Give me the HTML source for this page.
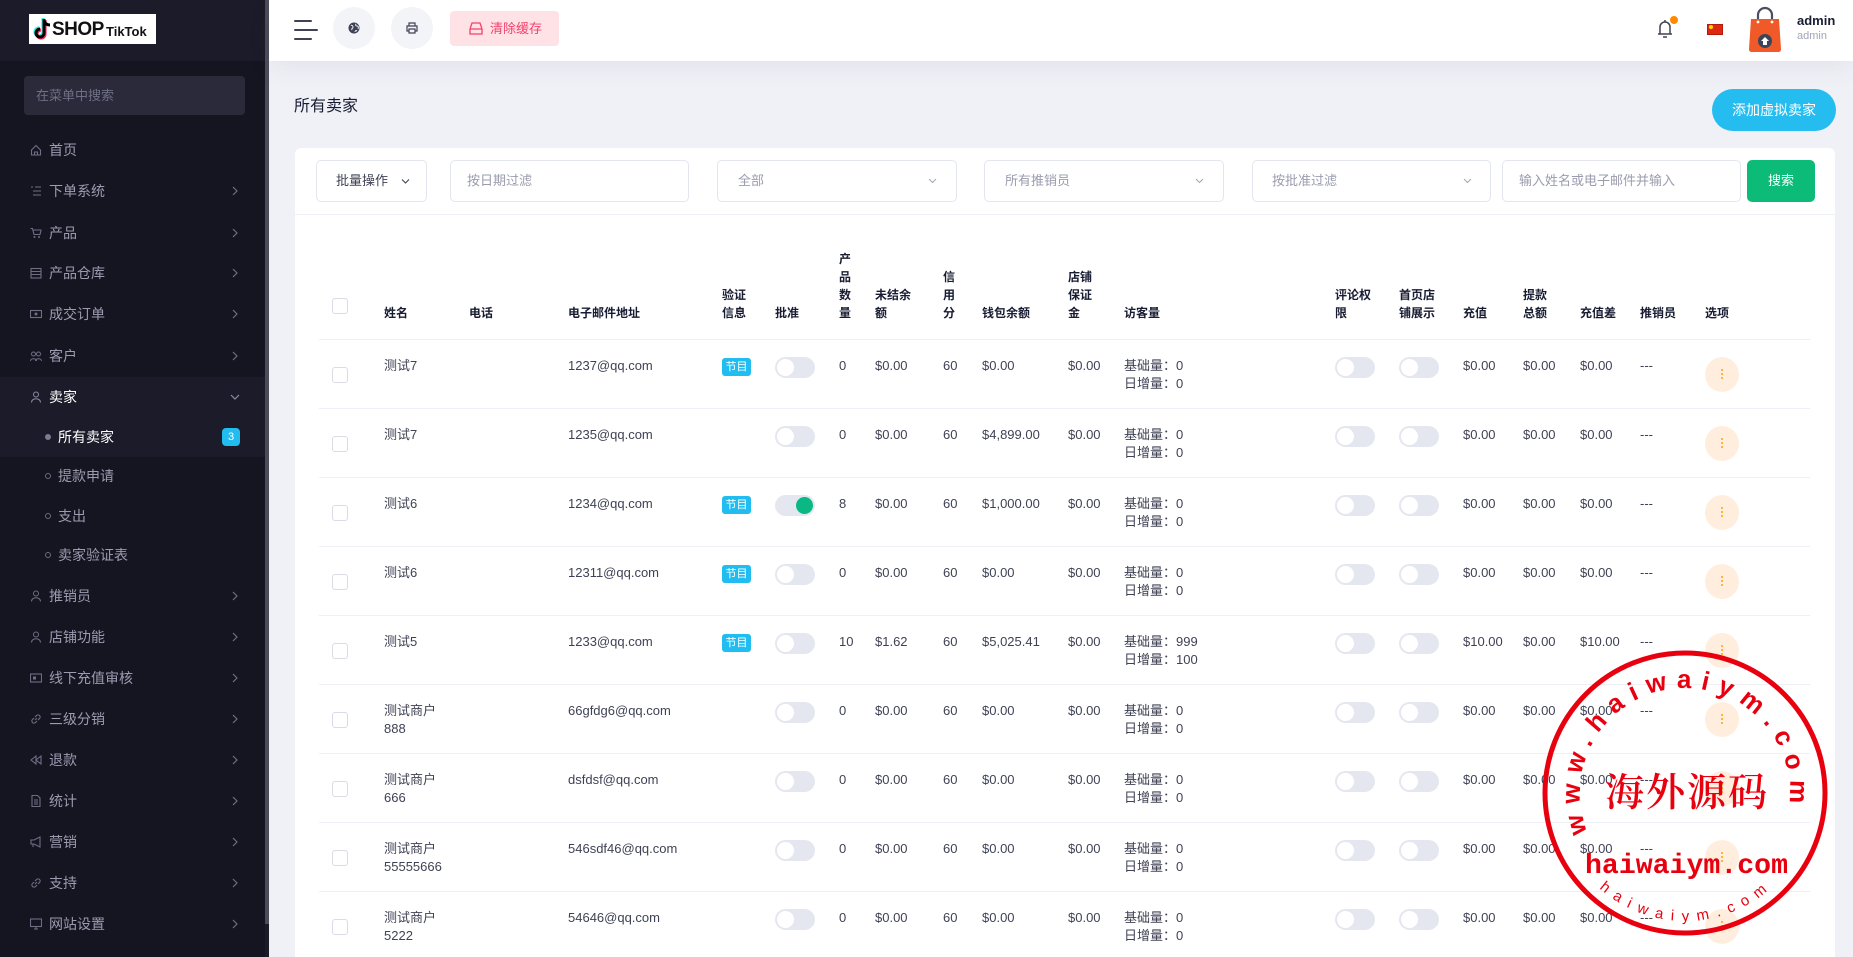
<!DOCTYPE html>
<html style="overflow:hidden;width:1853px;height:957px"><head><meta charset="utf-8">
<style>
*{box-sizing:border-box;margin:0;padding:0}
html,body{width:1853px;height:957px;overflow:hidden}
body{background:#f0f1f7;font-family:"Liberation Sans","Noto Sans CJK SC",sans-serif;color:#3f4254}
#root{position:relative;width:1853px;height:957px;overflow:hidden;background:#f0f1f7}
.a{position:absolute}
.side{left:0;top:0;width:265px;height:957px;background:#151521}
.mi{position:absolute;left:0;width:265px;height:22px;line-height:22px;font-size:14px;color:#9b9cb0}
.mi .tx{position:absolute;left:49px;top:0}
.mi .ic{position:absolute;left:30px;top:5px;width:12px;height:12px}
.mi .ch{position:absolute;left:231px;top:6px;width:8px;height:10px}
.sub{position:absolute;left:0;width:265px;height:22px;line-height:22px;font-size:14px;color:#9b9cb0}
.sub .tx{position:absolute;left:58px;top:0}
.sub .dt{position:absolute;left:45px;top:8px;width:6px;height:6px;border-radius:50%;border:1px solid #6c6c80}
.r{position:absolute;left:319px;width:1491px;height:69px;border-top:1px solid #eef0f5;font-size:13px}
.r .t{position:absolute;top:17px;line-height:18px;white-space:nowrap;color:#3f4254}
.cb{position:absolute;left:13px;top:27px;width:16px;height:16px;border:1px solid #d9dce6;border-radius:3px;background:#fff}
.bd{position:absolute;left:403px;top:18px;width:29px;height:18px;border-radius:3px;background:#22bdf0;color:#fff;font-size:11px;line-height:18px;text-align:center;font-weight:normal}
.tg{position:absolute;left:456px;top:17px;width:40px;height:21px;border-radius:11px;background:#e4e7ef}
.tg::after{content:"";position:absolute;left:2px;top:2px;width:17px;height:17px;border-radius:50%;background:#fff}
.tg.on::after{left:21px;background:#0bb783}
.op{position:absolute;left:1386px;top:17px;width:34px;height:35px;border-radius:50%;background:#ffeedd}
.op::before{content:"";position:absolute;left:16px;top:12px;width:2px;height:2px;background:#ffa200;border-radius:1px;box-shadow:0 4px 0 #ffa200,0 8px 0 #ffa200}
.h{position:absolute;font-size:12px;font-weight:bold;color:#181c32;line-height:18px}
.fi{position:absolute;top:160px;height:42px;border:1px solid #e4e6ef;border-radius:5px;background:#fff;font-size:13px;color:#9a9cae;line-height:40px}
.fi .chv{position:absolute;top:15px;width:9px;height:9px}
</style></head>
<body>
<div id="root">

<!-- SIDEBAR -->
<div class="a side"></div>
<div class="a" style="left:0;top:0;width:265px;height:61px;background:#1b1b29"></div>
<div class="a" style="left:265px;top:0;width:4px;height:924px;background:#4b4b59"></div>
<div class="a" style="left:265px;top:924px;width:4px;height:33px;background:#1b1b28"></div>
<!-- logo -->
<div class="a" style="left:29px;top:14px;width:127px;height:30px;background:#fff;overflow:hidden">
  <svg class="a" style="left:4px;top:3px" width="20" height="24" viewBox="0 0 20 24">
    <path d="M11 2 v14 a4 4 0 1 1 -4 -4" fill="none" stroke="#25f4ee" stroke-width="3.2" transform="translate(-1,-1)"/>
    <path d="M11 2 v14 a4 4 0 1 1 -4 -4" fill="none" stroke="#fe2c55" stroke-width="3.2" transform="translate(1,1)"/>
    <path d="M11 2 v14 a4 4 0 1 1 -4 -4 M11 3 q1 5 6 5" fill="none" stroke="#000" stroke-width="3"/>
  </svg>
  <span class="a" style="left:23px;top:4px;font-size:19px;font-weight:bold;color:#111;line-height:24px;letter-spacing:-0.5px">SHOP</span>
  <span class="a" style="left:77px;top:9px;font-size:13px;font-weight:bold;color:#111;line-height:18px">TikTok</span>
</div>
<!-- search -->
<div class="a" style="left:24px;top:76px;width:221px;height:39px;background:#2a2a3a;border-radius:4px;font-size:13px;color:#6e6f85;line-height:39px;padding-left:12px">在菜单中搜索</div>

<!-- active bg -->
<div class="a" style="left:0;top:377px;width:265px;height:80px;background:#1b1b2a"></div>

<div class="mi" style="top:139px"><svg class="ic" viewBox="0 0 12 12"><path d="M1.5 6 L6 1.5 L10.5 6 V11 H1.5Z M4.5 11 V8 H7.5 V11" fill="none" stroke="#6d6e84" stroke-width="1.1"/></svg><span class="tx">首页</span></div>
<div class="mi" style="top:180px"><svg class="ic" viewBox="0 0 12 12"><path d="M1 2h2M5 2h6M3 6h8M3 10h8" stroke="#6d6e84" stroke-width="1.1"/></svg><span class="tx">下单系统</span><svg class="ch" viewBox="0 0 8 10"><path d="M2 1l4 4-4 4" fill="none" stroke="#6d6e84" stroke-width="1.2"/></svg></div>
<div class="mi" style="top:222px"><svg class="ic" viewBox="0 0 12 12"><path d="M0.5 1.5h2l1.5 6h6l1-4.5H3" fill="none" stroke="#6d6e84" stroke-width="1.1"/><circle cx="4.5" cy="10" r="1" fill="#6d6e84"/><circle cx="9" cy="10" r="1" fill="#6d6e84"/></svg><span class="tx">产品</span><svg class="ch" viewBox="0 0 8 10"><path d="M2 1l4 4-4 4" fill="none" stroke="#6d6e84" stroke-width="1.2"/></svg></div>
<div class="mi" style="top:262px"><svg class="ic" viewBox="0 0 12 12"><rect x="1" y="1.5" width="10" height="9.5" fill="none" stroke="#6d6e84" stroke-width="1.1"/><path d="M1 4.5h10M1 7.5h10" stroke="#6d6e84" stroke-width="1.1"/></svg><span class="tx">产品仓库</span><svg class="ch" viewBox="0 0 8 10"><path d="M2 1l4 4-4 4" fill="none" stroke="#6d6e84" stroke-width="1.2"/></svg></div>
<div class="mi" style="top:303px"><svg class="ic" viewBox="0 0 12 12"><rect x="0.5" y="2.5" width="11" height="7" fill="none" stroke="#6d6e84" stroke-width="1.1"/><circle cx="6" cy="6" r="1.5" fill="#6d6e84"/></svg><span class="tx">成交订单</span><svg class="ch" viewBox="0 0 8 10"><path d="M2 1l4 4-4 4" fill="none" stroke="#6d6e84" stroke-width="1.2"/></svg></div>
<div class="mi" style="top:345px"><svg class="ic" viewBox="0 0 12 12"><circle cx="3.5" cy="4" r="2" fill="none" stroke="#6d6e84"/><circle cx="8.5" cy="4" r="2" fill="none" stroke="#6d6e84"/><path d="M0.5 11c0-3 6-3 6 0M5.5 11c0-3 6-3 6 0" fill="none" stroke="#6d6e84"/></svg><span class="tx">客户</span><svg class="ch" viewBox="0 0 8 10"><path d="M2 1l4 4-4 4" fill="none" stroke="#6d6e84" stroke-width="1.2"/></svg></div>
<div class="mi" style="top:386px;color:#fff"><svg class="ic" viewBox="0 0 12 12"><circle cx="6" cy="3.5" r="2.5" fill="none" stroke="#8b8ca2"/><path d="M1.5 11.5c0-5 9-5 9 0" fill="none" stroke="#8b8ca2"/></svg><span class="tx">卖家</span><svg class="ch" viewBox="0 0 10 8" style="width:10px;height:8px;top:7px;left:230px"><path d="M1 2l4 4 4-4" fill="none" stroke="#8b8ca2" stroke-width="1.2"/></svg></div>
<div class="sub" style="top:426px;color:#fff"><span class="dt" style="background:#7a7b92;border-color:#7a7b92"></span><span class="tx">所有卖家</span></div>
<div class="a" style="left:222px;top:428px;width:18px;height:18px;border-radius:4px;background:#22bdf0;color:#fff;font-size:11px;line-height:18px;text-align:center">3</div>
<div class="sub" style="top:465px"><span class="dt"></span><span class="tx">提款申请</span></div>
<div class="sub" style="top:505px"><span class="dt"></span><span class="tx">支出</span></div>
<div class="sub" style="top:544px"><span class="dt"></span><span class="tx">卖家验证表</span></div>
<div class="mi" style="top:585px"><svg class="ic" viewBox="0 0 12 12"><circle cx="6" cy="3.5" r="2.5" fill="none" stroke="#6d6e84"/><path d="M1.5 11.5c0-5 9-5 9 0" fill="none" stroke="#6d6e84"/></svg><span class="tx">推销员</span><svg class="ch" viewBox="0 0 8 10"><path d="M2 1l4 4-4 4" fill="none" stroke="#6d6e84" stroke-width="1.2"/></svg></div>
<div class="mi" style="top:626px"><svg class="ic" viewBox="0 0 12 12"><circle cx="6" cy="3.5" r="2.5" fill="none" stroke="#6d6e84"/><path d="M1.5 11.5c0-5 9-5 9 0" fill="none" stroke="#6d6e84"/></svg><span class="tx">店铺功能</span><svg class="ch" viewBox="0 0 8 10"><path d="M2 1l4 4-4 4" fill="none" stroke="#6d6e84" stroke-width="1.2"/></svg></div>
<div class="mi" style="top:667px"><svg class="ic" viewBox="0 0 12 12"><rect x="0.5" y="2" width="11" height="8" fill="none" stroke="#6d6e84" stroke-width="1.1"/><rect x="3" y="4.5" width="3" height="3" fill="#6d6e84"/></svg><span class="tx">线下充值审核</span><svg class="ch" viewBox="0 0 8 10"><path d="M2 1l4 4-4 4" fill="none" stroke="#6d6e84" stroke-width="1.2"/></svg></div>
<div class="mi" style="top:708px"><svg class="ic" viewBox="0 0 12 12"><path d="M5 7l2-2M4 5L2.5 6.5a2 2 0 0 0 3 3L7 8M8 7l1.5-1.5a2 2 0 0 0-3-3L5 4" fill="none" stroke="#6d6e84" stroke-width="1.1"/></svg><span class="tx">三级分销</span><svg class="ch" viewBox="0 0 8 10"><path d="M2 1l4 4-4 4" fill="none" stroke="#6d6e84" stroke-width="1.2"/></svg></div>
<div class="mi" style="top:749px"><svg class="ic" viewBox="0 0 12 12"><path d="M6 2L1 6l5 4zM11 2L6 6l5 4z" fill="none" stroke="#6d6e84" stroke-width="1.1"/></svg><span class="tx">退款</span><svg class="ch" viewBox="0 0 8 10"><path d="M2 1l4 4-4 4" fill="none" stroke="#6d6e84" stroke-width="1.2"/></svg></div>
<div class="mi" style="top:790px"><svg class="ic" viewBox="0 0 12 12"><path d="M2 0.5h5.5l2.5 2.5v8.5H2z M4 5h4M4 7h4M4 9h4" fill="none" stroke="#6d6e84" stroke-width="1.1"/></svg><span class="tx">统计</span><svg class="ch" viewBox="0 0 8 10"><path d="M2 1l4 4-4 4" fill="none" stroke="#6d6e84" stroke-width="1.2"/></svg></div>
<div class="mi" style="top:831px"><svg class="ic" viewBox="0 0 12 12"><path d="M1 4h3l6-3v10l-6-3H1z M3 8v3" fill="none" stroke="#6d6e84" stroke-width="1.1"/></svg><span class="tx">营销</span><svg class="ch" viewBox="0 0 8 10"><path d="M2 1l4 4-4 4" fill="none" stroke="#6d6e84" stroke-width="1.2"/></svg></div>
<div class="mi" style="top:872px"><svg class="ic" viewBox="0 0 12 12"><path d="M5 7l2-2M4 5L2.5 6.5a2 2 0 0 0 3 3L7 8M8 7l1.5-1.5a2 2 0 0 0-3-3L5 4" fill="none" stroke="#6d6e84" stroke-width="1.1"/></svg><span class="tx">支持</span><svg class="ch" viewBox="0 0 8 10"><path d="M2 1l4 4-4 4" fill="none" stroke="#6d6e84" stroke-width="1.2"/></svg></div>
<div class="mi" style="top:913px"><svg class="ic" viewBox="0 0 12 12"><rect x="0.5" y="1" width="11" height="7.5" fill="none" stroke="#6d6e84" stroke-width="1.1"/><path d="M4 11h4M6 8.5v2.5" stroke="#6d6e84" stroke-width="1.1"/></svg><span class="tx">网站设置</span><svg class="ch" viewBox="0 0 8 10"><path d="M2 1l4 4-4 4" fill="none" stroke="#6d6e84" stroke-width="1.2"/></svg></div>

<!-- HEADER -->
<div class="a" style="left:269px;top:0;width:1584px;height:61px;background:#fff;box-shadow:0 8px 24px rgba(82,63,105,0.07)"></div>
<div class="a" style="left:294px;top:20px;width:18px;height:2px;background:#3f4254;border-radius:1px"></div>
<div class="a" style="left:294px;top:29px;width:24px;height:2px;background:#3f4254;border-radius:1px"></div>
<div class="a" style="left:294px;top:38px;width:18px;height:2px;background:#3f4254;border-radius:1px"></div>
<div class="a" style="left:333px;top:7px;width:42px;height:42px;border-radius:50%;background:#f3f4f8"></div>
<svg class="a" style="left:348px;top:22px" width="12" height="12" viewBox="0 0 12 12"><circle cx="6" cy="6" r="5.5" fill="#3f4254"/><path d="M3 3c1 1 2 0 2 2s-2 1-1 3M8 2c-1 1 0 2 1 2s2 1 1 3M7 10c0-1 1-2 2-1" fill="none" stroke="#f3f4f8" stroke-width="1"/></svg>
<div class="a" style="left:391px;top:7px;width:42px;height:42px;border-radius:50%;background:#f3f4f8"></div>
<svg class="a" style="left:406px;top:22px" width="12" height="12" viewBox="0 0 12 12"><path d="M3 4V1h6v3M3 9H1V4h10v5H9M3 7h6v4H3z" fill="none" stroke="#3f4254" stroke-width="1.2"/></svg>
<div class="a" style="left:450px;top:11px;width:109px;height:35px;border-radius:4px;background:#ffe2e6"></div>
<svg class="a" style="left:469px;top:22px" width="14" height="13" viewBox="0 0 14 13"><path d="M1 7L3 1h8l2 6v5H1z M1 7h12" fill="none" stroke="#f1416c" stroke-width="1.3"/></svg>
<span class="a" style="left:490px;top:19px;font-size:13px;line-height:19px;color:#f1416c">清除缓存</span>

<!-- right header -->
<svg class="a" style="left:1655px;top:16px" width="24" height="24" viewBox="0 0 24 24"><path d="M3 18h14M5 18v-7a5 5 0 0 1 10 0v7M8 21h4M10 4v2" fill="none" stroke="#3f4254" stroke-width="1.5"/><circle cx="19" cy="4" r="4" fill="#ff8a00"/></svg>
<div class="a" style="left:1707px;top:24px;width:16px;height:11px;background:#de2910;border:1px solid #b51a0b"></div>
<div class="a" style="left:1709px;top:25px;width:4px;height:4px;background:#ffde00;border-radius:50%"></div>
<svg class="a" style="left:1747px;top:6px" width="36" height="46" viewBox="0 0 36 46"><path d="M11 16V9a7 7 0 0 1 14 0v7" fill="none" stroke="#4a4f5e" stroke-width="2.2"/><path d="M4 13h28l2 30c0 2-1 3-3 3H5c-2 0-3-1-3-3z" fill="#f05a28"/><circle cx="11" cy="16" r="1.4" fill="#fff"/><circle cx="25" cy="16" r="1.4" fill="#fff"/><circle cx="18" cy="35" r="7" fill="#3c4558"/><path d="M14 35l4-4 4 4h-2v4h-4v-4z" fill="#fff"/></svg>
<span class="a" style="left:1797px;top:12px;font-size:13px;font-weight:bold;color:#181c32;line-height:18px">admin</span>
<span class="a" style="left:1797px;top:29px;font-size:11px;color:#a1a5b7;line-height:14px">admin</span>

<!-- title -->
<span class="a" style="left:294px;top:96px;font-size:16px;line-height:22px;color:#181c32">所有卖家</span>
<div class="a" style="left:1712px;top:89px;width:124px;height:42px;border-radius:21px;background:#25bdf0;color:#fff;font-size:14px;line-height:42px;text-align:center">添加虚拟卖家</div>

<!-- CARD -->
<div class="a" style="left:295px;top:148px;width:1540px;height:809px;background:#fff;border-radius:6px 6px 0 0"></div>
<div class="a" style="left:295px;top:214px;width:1540px;height:1px;background:#eef0f5"></div>

<div class="fi" style="left:316px;width:111px;color:#3f4254;padding-left:19px">批量操作<svg class="a" style="left:84px;top:17px" width="9" height="7" viewBox="0 0 9 7"><path d="M1 1.5l3.5 3.5 3.5-3.5" fill="none" stroke="#3f4254" stroke-width="1.1"/></svg></div>
<div class="fi" style="left:450px;width:239px;padding-left:16px">按日期过滤</div>
<div class="fi" style="left:717px;width:240px;padding-left:20px">全部<svg class="chv" style="left:210px" viewBox="0 0 9 9"><path d="M1 3l3.5 3.5 3.5-3.5" fill="none" stroke="#a1a5b7" stroke-width="1"/></svg></div>
<div class="fi" style="left:984px;width:240px;padding-left:20px">所有推销员<svg class="chv" style="left:210px" viewBox="0 0 9 9"><path d="M1 3l3.5 3.5 3.5-3.5" fill="none" stroke="#a1a5b7" stroke-width="1"/></svg></div>
<div class="fi" style="left:1252px;width:239px;padding-left:19px">按批准过滤<svg class="chv" style="left:210px" viewBox="0 0 9 9"><path d="M1 3l3.5 3.5 3.5-3.5" fill="none" stroke="#a1a5b7" stroke-width="1"/></svg></div>
<div class="fi" style="left:1502px;width:239px;padding-left:16px">输入姓名或电子邮件并输入</div>
<div class="a" style="left:1747px;top:160px;width:68px;height:42px;border-radius:5px;background:#0bbb77;color:#fff;font-size:13px;line-height:42px;text-align:center">搜索</div>

<!-- TABLE HEADER -->
<div class="a" style="left:332px;top:298px;width:16px;height:16px;border:1px solid #d9dce6;border-radius:3px"></div>
<div class="h" style="left:384px;top:304px">姓名</div>
<div class="h" style="left:469px;top:304px">电话</div>
<div class="h" style="left:568px;top:304px">电子邮件地址</div>
<div class="h" style="left:722px;top:286px">验证<br>信息</div>
<div class="h" style="left:775px;top:304px">批准</div>
<div class="h" style="left:839px;top:250px">产<br>品<br>数<br>量</div>
<div class="h" style="left:875px;top:286px">未结余<br>额</div>
<div class="h" style="left:943px;top:268px">信<br>用<br>分</div>
<div class="h" style="left:982px;top:304px">钱包余额</div>
<div class="h" style="left:1068px;top:268px">店铺<br>保证<br>金</div>
<div class="h" style="left:1124px;top:304px">访客量</div>
<div class="h" style="left:1335px;top:286px">评论权<br>限</div>
<div class="h" style="left:1399px;top:286px">首页店<br>铺展示</div>
<div class="h" style="left:1463px;top:304px">充值</div>
<div class="h" style="left:1523px;top:286px">提款<br>总额</div>
<div class="h" style="left:1580px;top:304px">充值差</div>
<div class="h" style="left:1640px;top:304px">推销员</div>
<div class="h" style="left:1705px;top:304px">选项</div>

<!-- ROWS -->
<div class="r" style="top:339px"><i class="cb"></i><span class="t" style="left:65px">测试7</span><span class="t" style="left:249px">1237@qq.com</span><b class="bd">节目</b><i class="tg"></i><span class="t" style="left:520px">0</span><span class="t" style="left:556px">$0.00</span><span class="t" style="left:624px">60</span><span class="t" style="left:663px">$0.00</span><span class="t" style="left:749px">$0.00</span><span class="t" style="left:805px">基础量：0<br>日增量：0</span><i class="tg" style="left:1016px"></i><i class="tg" style="left:1080px"></i><span class="t" style="left:1144px">$0.00</span><span class="t" style="left:1204px">$0.00</span><span class="t" style="left:1261px">$0.00</span><span class="t" style="left:1321px">---</span><i class="op"></i></div>

<div class="r" style="top:408px"><i class="cb"></i><span class="t" style="left:65px">测试7</span><span class="t" style="left:249px">1235@qq.com</span><i class="tg"></i><span class="t" style="left:520px">0</span><span class="t" style="left:556px">$0.00</span><span class="t" style="left:624px">60</span><span class="t" style="left:663px">$4,899.00</span><span class="t" style="left:749px">$0.00</span><span class="t" style="left:805px">基础量：0<br>日增量：0</span><i class="tg" style="left:1016px"></i><i class="tg" style="left:1080px"></i><span class="t" style="left:1144px">$0.00</span><span class="t" style="left:1204px">$0.00</span><span class="t" style="left:1261px">$0.00</span><span class="t" style="left:1321px">---</span><i class="op"></i></div>

<div class="r" style="top:477px"><i class="cb"></i><span class="t" style="left:65px">测试6</span><span class="t" style="left:249px">1234@qq.com</span><b class="bd">节目</b><i class="tg on"></i><span class="t" style="left:520px">8</span><span class="t" style="left:556px">$0.00</span><span class="t" style="left:624px">60</span><span class="t" style="left:663px">$1,000.00</span><span class="t" style="left:749px">$0.00</span><span class="t" style="left:805px">基础量：0<br>日增量：0</span><i class="tg" style="left:1016px"></i><i class="tg" style="left:1080px"></i><span class="t" style="left:1144px">$0.00</span><span class="t" style="left:1204px">$0.00</span><span class="t" style="left:1261px">$0.00</span><span class="t" style="left:1321px">---</span><i class="op"></i></div>

<div class="r" style="top:546px"><i class="cb"></i><span class="t" style="left:65px">测试6</span><span class="t" style="left:249px">12311@qq.com</span><b class="bd">节目</b><i class="tg"></i><span class="t" style="left:520px">0</span><span class="t" style="left:556px">$0.00</span><span class="t" style="left:624px">60</span><span class="t" style="left:663px">$0.00</span><span class="t" style="left:749px">$0.00</span><span class="t" style="left:805px">基础量：0<br>日增量：0</span><i class="tg" style="left:1016px"></i><i class="tg" style="left:1080px"></i><span class="t" style="left:1144px">$0.00</span><span class="t" style="left:1204px">$0.00</span><span class="t" style="left:1261px">$0.00</span><span class="t" style="left:1321px">---</span><i class="op"></i></div>

<div class="r" style="top:615px"><i class="cb"></i><span class="t" style="left:65px">测试5</span><span class="t" style="left:249px">1233@qq.com</span><b class="bd">节目</b><i class="tg"></i><span class="t" style="left:520px">10</span><span class="t" style="left:556px">$1.62</span><span class="t" style="left:624px">60</span><span class="t" style="left:663px">$5,025.41</span><span class="t" style="left:749px">$0.00</span><span class="t" style="left:805px">基础量：999<br>日增量：100</span><i class="tg" style="left:1016px"></i><i class="tg" style="left:1080px"></i><span class="t" style="left:1144px">$10.00</span><span class="t" style="left:1204px">$0.00</span><span class="t" style="left:1261px">$10.00</span><span class="t" style="left:1321px">---</span><i class="op"></i></div>

<div class="r" style="top:684px"><i class="cb"></i><span class="t" style="left:65px">测试商户<br>888</span><span class="t" style="left:249px">66gfdg6@qq.com</span><i class="tg"></i><span class="t" style="left:520px">0</span><span class="t" style="left:556px">$0.00</span><span class="t" style="left:624px">60</span><span class="t" style="left:663px">$0.00</span><span class="t" style="left:749px">$0.00</span><span class="t" style="left:805px">基础量：0<br>日增量：0</span><i class="tg" style="left:1016px"></i><i class="tg" style="left:1080px"></i><span class="t" style="left:1144px">$0.00</span><span class="t" style="left:1204px">$0.00</span><span class="t" style="left:1261px">$0.00</span><span class="t" style="left:1321px">---</span><i class="op"></i></div>

<div class="r" style="top:753px"><i class="cb"></i><span class="t" style="left:65px">测试商户<br>666</span><span class="t" style="left:249px">dsfdsf@qq.com</span><i class="tg"></i><span class="t" style="left:520px">0</span><span class="t" style="left:556px">$0.00</span><span class="t" style="left:624px">60</span><span class="t" style="left:663px">$0.00</span><span class="t" style="left:749px">$0.00</span><span class="t" style="left:805px">基础量：0<br>日增量：0</span><i class="tg" style="left:1016px"></i><i class="tg" style="left:1080px"></i><span class="t" style="left:1144px">$0.00</span><span class="t" style="left:1204px">$0.00</span><span class="t" style="left:1261px">$0.00</span><span class="t" style="left:1321px">---</span><i class="op"></i></div>

<div class="r" style="top:822px"><i class="cb"></i><span class="t" style="left:65px">测试商户<br>55555666</span><span class="t" style="left:249px">546sdf46@qq.com</span><i class="tg"></i><span class="t" style="left:520px">0</span><span class="t" style="left:556px">$0.00</span><span class="t" style="left:624px">60</span><span class="t" style="left:663px">$0.00</span><span class="t" style="left:749px">$0.00</span><span class="t" style="left:805px">基础量：0<br>日增量：0</span><i class="tg" style="left:1016px"></i><i class="tg" style="left:1080px"></i><span class="t" style="left:1144px">$0.00</span><span class="t" style="left:1204px">$0.00</span><span class="t" style="left:1261px">$0.00</span><span class="t" style="left:1321px">---</span><i class="op"></i></div>

<div class="r" style="top:891px;height:66px"><i class="cb"></i><span class="t" style="left:65px">测试商户<br>5222</span><span class="t" style="left:249px">54646@qq.com</span><i class="tg"></i><span class="t" style="left:520px">0</span><span class="t" style="left:556px">$0.00</span><span class="t" style="left:624px">60</span><span class="t" style="left:663px">$0.00</span><span class="t" style="left:749px">$0.00</span><span class="t" style="left:805px">基础量：0<br>日增量：0</span><i class="tg" style="left:1016px"></i><i class="tg" style="left:1080px"></i><span class="t" style="left:1144px">$0.00</span><span class="t" style="left:1204px">$0.00</span><span class="t" style="left:1261px">$0.00</span><span class="t" style="left:1321px">---</span><i class="op"></i></div>

<!-- WATERMARK -->
<svg class="a" style="left:0;top:0" width="1853" height="957" viewBox="0 0 1853 957">
  <defs>
    <path id="arcTop" d="M1587.6,832.3 A105,105 0 1 1 1788.4,811.2"/>
    <path id="arcBot" d="M1599.4,888.1 A128,128 0 0 0 1770.6,888.1"/>
  </defs>
  <circle cx="1685" cy="793" r="140" fill="none" stroke="#e8000f" stroke-width="5"/>
  <text font-family="Liberation Sans, sans-serif" font-weight="bold" font-size="26" fill="#e8000f" letter-spacing="9"><textPath href="#arcTop">www.haiwaiym.com</textPath></text>
  <text font-family="Liberation Sans, sans-serif" font-size="15" fill="#e8000f" letter-spacing="8"><textPath href="#arcBot">haiwaiym.com</textPath></text>
  <text x="1687" y="806" text-anchor="middle" font-family="Noto Serif CJK SC, serif" font-weight="600" font-size="39" fill="#e8000f" letter-spacing="2">海外源码</text>
  <text x="1585" y="873" font-family="Liberation Mono, monospace" font-weight="bold" font-size="28" fill="#e8000f" textLength="203" lengthAdjust="spacingAndGlyphs">haiwaiym.com</text>
</svg>

</div>
</body></html>
